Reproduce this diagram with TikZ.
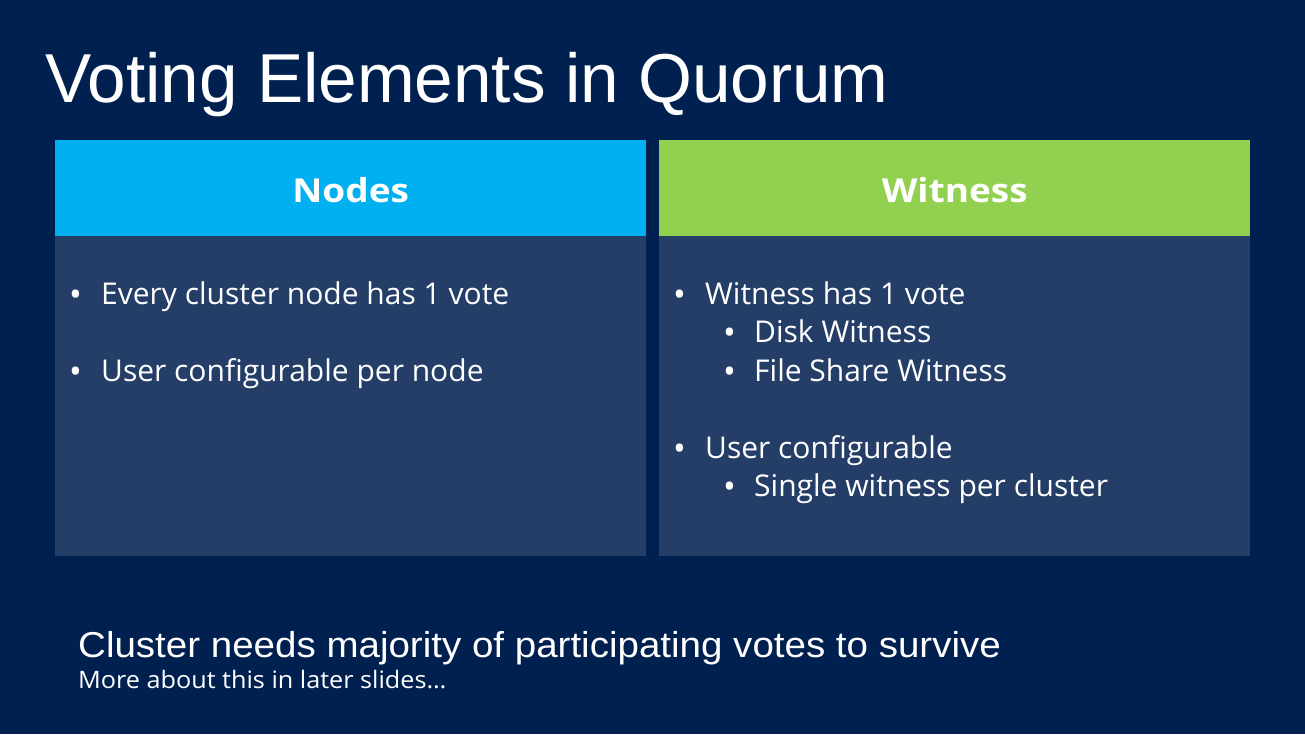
\documentclass[tikz,border=0pt]{standalone}
\usepackage{fontspec}
\setmainfont{Open Sans}
\newfontfamily\titlefont{Liberation Sans}
\newfontfamily\headfont[FakeStretch=1.12]{Open Sans}
\newfontfamily\notefont[FakeStretch=1.07]{Liberation Sans}
\newfontfamily\smallnotefont[FakeStretch=1.05]{Open Sans}
\usetikzlibrary{positioning}
\definecolor{slidebg}{HTML}{002050}
\definecolor{nodesblue}{HTML}{00B0F0}
\definecolor{witnessgreen}{HTML}{92D050}
\definecolor{panelblue}{HTML}{243E68}
\begin{document}
\begin{tikzpicture}[x=1pt, y=-1pt,
    header/.style={minimum width=591pt, minimum height=96pt, inner sep=0pt,
      anchor=north west, text=white, text height=29pt, text depth=0pt,
      font=\headfont\fontsize{33}{38}\selectfont\bfseries},
    panel/.style={fill=panelblue, minimum width=591pt, minimum height=320pt,
      inner sep=0pt, anchor=north west},
    item/.style={text=white, anchor=base west, inner sep=0pt,
      font=\fontsize{30}{36}\selectfont},
    bullet/.style={item, font=\fontsize{34}{38}\selectfont}]
  \fill[slidebg] (0,0) rectangle (1305,734);
  \useasboundingbox (0,0) rectangle (1305,734);
  % title
  \node[text=white, anchor=base west, inner sep=0pt,
    font=\titlefont\fontsize{69.3}{80}\selectfont] (title) at (45,102)
    {Voting Elements in Quorum};
  % the two columns
  \node[header, fill=nodesblue] (nodeshead) at (55,140) {Nodes};
  \node[panel] (nodespanel) at (55,236) {};
  \node[header, fill=witnessgreen] (witnesshead) at (659,140) {Witness};
  \node[panel] (witnesspanel) at (659,236) {};
  % nodes column
  \node[bullet] (b1) at (69,306) {•};
  \node[item] (n1) at (101,304) {Every cluster node has 1 vote};
  \node[bullet] (b2) at (69,383) {•};
  \node[item] (n2) at (101,381) {User configurable per node};
  % witness column
  \node[bullet] (b3) at (673,306) {•};
  \node[item] (w1) at (705,304) {Witness has 1 vote};
  \node[bullet] (b4) at (723,344) {•};
  \node[item] (w2) at (754,342) {Disk Witness};
  \node[bullet] (b5) at (723,383) {•};
  \node[item] (w3) at (754,381) {File Share Witness};
  \node[bullet] (b6) at (673,460) {•};
  \node[item] (w4) at (705,458) {User configurable};
  \node[bullet] (b7) at (723,498) {•};
  \node[item] (w5) at (754,496) {Single witness per cluster};
  % footer
  \node[text=white, anchor=base west, inner sep=0pt,
    font=\notefont\fontsize{36}{42}\selectfont] (note) at (78,657)
    {Cluster needs majority of participating votes to survive};
  \node[text=white, anchor=base west, inner sep=0pt,
    font=\smallnotefont\fontsize{24}{28}\selectfont] (subnote) at (78,688)
    {More about this in later slides\dots};
\end{tikzpicture}
\end{document}
